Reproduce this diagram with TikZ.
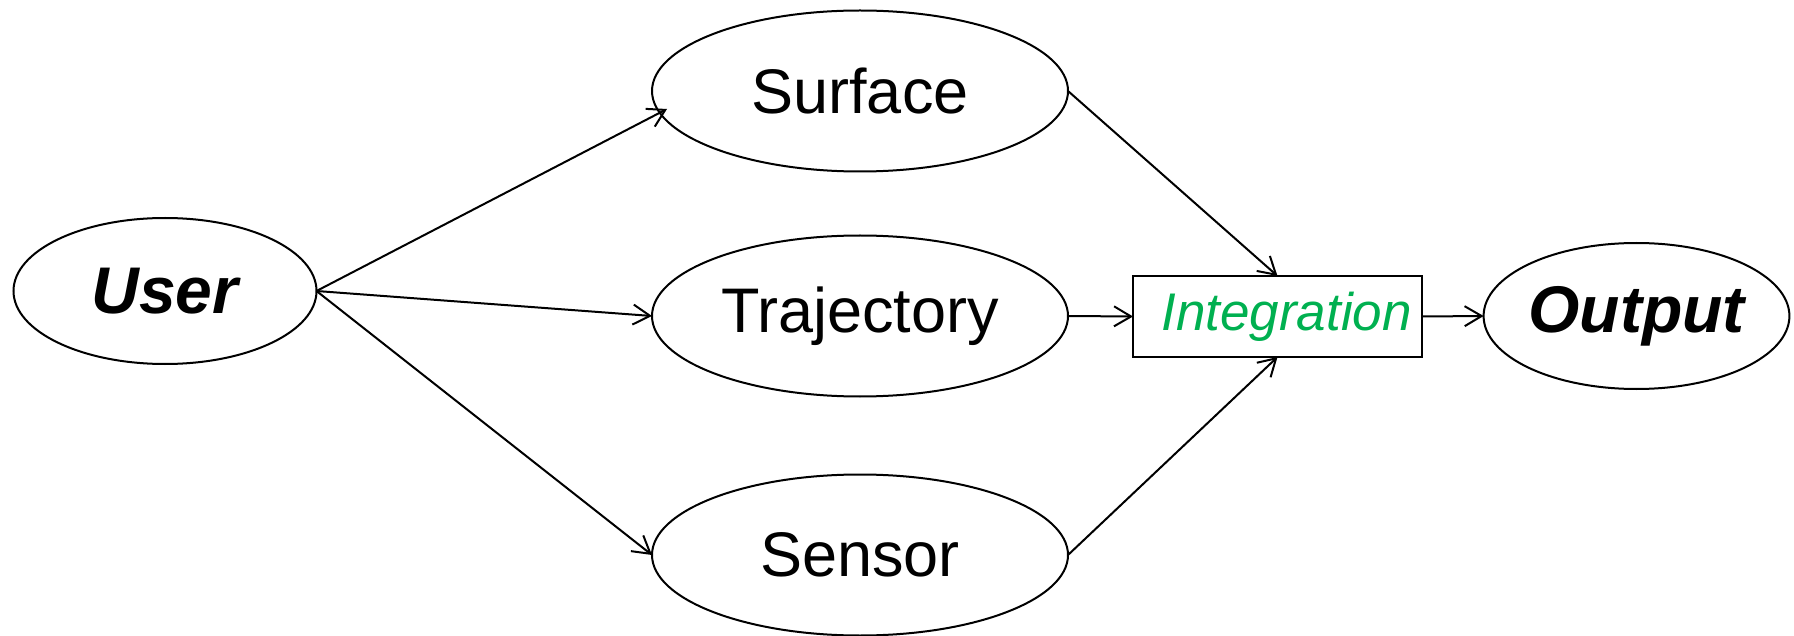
\documentclass[tikz,border=0pt]{standalone}
\usepackage{fontspec}
\setmainfont{Liberation Sans}
\usetikzlibrary{shapes.geometric,arrows.meta,calc}
\definecolor{intgreen}{RGB}{0,176,80}
\tikzset{
  blob/.style={ellipse, draw, line width=2pt, inner sep=0pt, outer sep=0pt,
               minimum width=416pt, minimum height=161pt,
               font=\fontsize{63}{70}\selectfont},
  endblob/.style={ellipse, draw, line width=2pt, inner sep=0pt, outer sep=0pt,
               minimum width=303pt, minimum height=146pt,
               font=\fontsize{66}{72}\selectfont\bfseries\itshape},
  mixbox/.style={rectangle, draw, line width=2pt, inner sep=0pt, outer sep=0pt,
               minimum width=289pt, minimum height=81pt,
               text=intgreen, font=\fontsize{53}{60}\selectfont\itshape},
  flow/.style={line width=2pt, -{Straight Barb[length=17pt,width=20pt,line width=2pt]}}
}
\begin{document}
\begin{tikzpicture}[x=1pt,y=-1pt]
  \useasboundingbox (0,0) rectangle (1794,636);

  % source and sink
  \node[endblob] (user)   at (165,291)    {User};
  \node[endblob] (output) at (1636.5,316) {Output};

  % the three processing stages
  \node[blob] (surface) at (860,91)  {Surface};
  \node[blob] (traj)    at (860,316) {Trajectory};
  \node[blob] (sensor)  at (860,555) {Sensor};

  % merge step
  \node[mixbox] (integ) at (1277.5,316.5) {\hspace{18pt}Integration};

  % the arrow into Surface stops just inside its outline
  \coordinate (surfin) at ($(surface.center)+(-193,18)$);

  % connectors
  \draw[flow] (user.east) -- (surfin);
  \draw[flow] (user.east) -- (traj.west);
  \draw[flow] (user.east) -- (sensor.west);
  \draw[flow] (surface.east) -- (integ.north);
  \draw[flow] (traj.east) -- (integ.west);
  \draw[flow] (sensor.east) -- (integ.south);
  \draw[flow] (integ.east) -- (output.west);
\end{tikzpicture}
\end{document}
